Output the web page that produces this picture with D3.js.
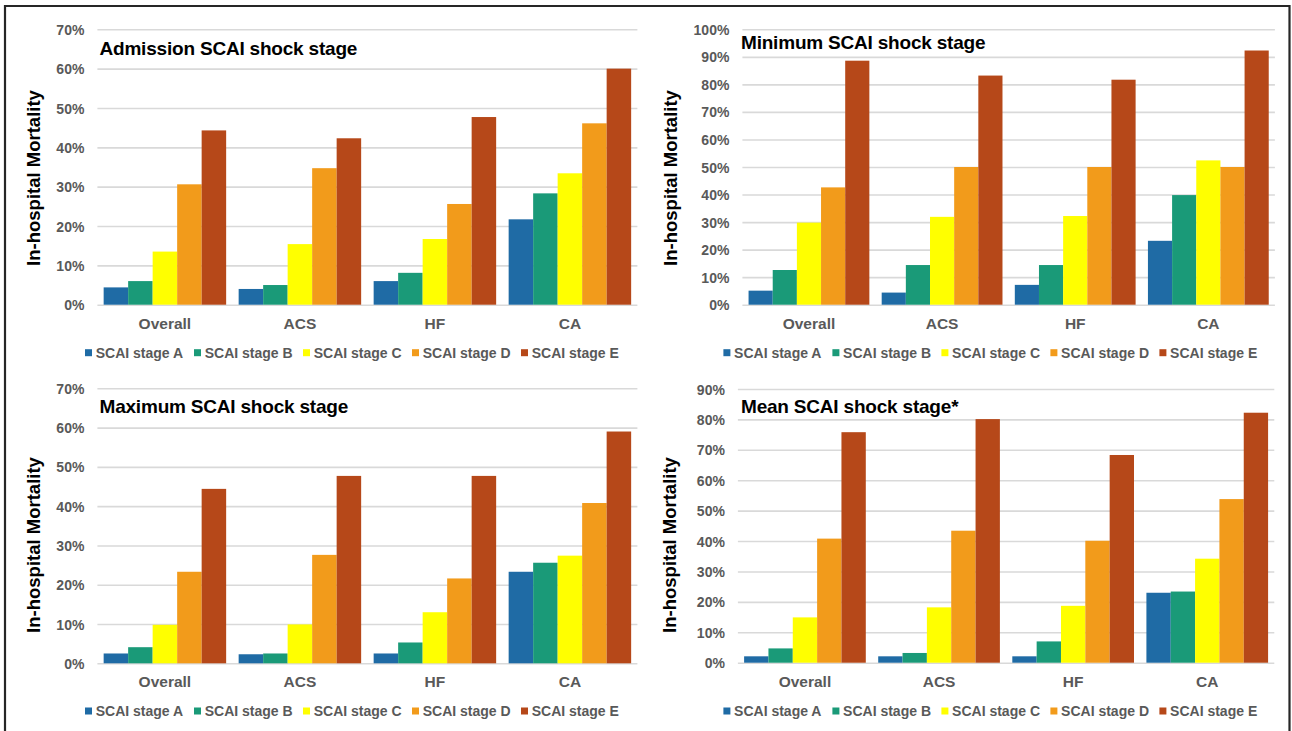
<!DOCTYPE html>
<html>
<head>
<meta charset="utf-8">
<script src="https://cdn.jsdelivr.net/npm/d3@7"></script>
<style>
  html, body { margin: 0; padding: 0; background: #fff; }
  svg { display: block; }
  text { font-family: "Liberation Sans", Arial, Helvetica, sans-serif; }
</style>
</head>
<body>
<svg id="chart" width="1292" height="731"></svg>
<script>
// ---------------- DATA ----------------
const categories = ["Overall", "ACS", "HF", "CA"];
const stages = ["SCAI stage A", "SCAI stage B", "SCAI stage C", "SCAI stage D", "SCAI stage E"];
const stageColors = ["#1f6ba5", "#1a9a78", "#ffff00", "#f29b1b", "#b64819"];

// rows = categories (Overall, ACS, HF, CA); columns = stages A..E, in %
const admissionValues = [
  [4.4, 6.0, 13.5, 30.6, 44.3],
  [4.0, 5.0, 15.4, 34.7, 42.3],
  [6.0, 8.1, 16.7, 25.6, 47.7],
  [21.7, 28.3, 33.4, 46.1, 60.0]
];
const minimumValues = [
  [5.1, 12.6, 29.8, 42.6, 88.6],
  [4.4, 14.4, 31.9, 50.0, 83.2],
  [7.2, 14.4, 32.2, 50.0, 81.7],
  [23.2, 39.8, 52.4, 50.0, 92.3]
];
const maximumValues = [
  [2.5, 4.1, 9.8, 23.3, 44.4],
  [2.3, 2.5, 9.9, 27.6, 47.7],
  [2.5, 5.3, 13.0, 21.6, 47.7],
  [23.3, 25.6, 27.4, 40.8, 59.0]
];
const meanValues = [
  [2.1, 4.7, 14.9, 40.8, 75.8],
  [2.1, 3.2, 18.2, 43.4, 80.1],
  [2.1, 7.0, 18.7, 40.1, 68.3],
  [23.0, 23.4, 34.2, 53.8, 82.2]
];

const ticksAdmission = [0, 10, 20, 30, 40, 50, 60, 70];
const ticksMinimum = [0, 10, 20, 30, 40, 50, 60, 70, 80, 90, 100];
const ticksMaximum = [0, 10, 20, 30, 40, 50, 60, 70];
const ticksMean = [0, 10, 20, 30, 40, 50, 60, 70, 80, 90];

const titles = ["Admission SCAI shock stage", "Minimum SCAI shock stage", "Maximum SCAI shock stage", "Mean SCAI shock stage*"];
const yAxisLabel = "In-hospital Mortality";

// ---------------- LAYOUT ----------------
const panels = [
  { title: titles[0], values: admissionValues, ticks: ticksAdmission,
    x0: 97.4, x1: 637.4, yTop: 29.3, yBot: 304.7,
    titleX: 99.5, titleY: 55, labX: 33, labY: 178, catY: 328.5, legX: 85, legY: 352.7 },
  { title: titles[1], values: minimumValues, ticks: ticksMinimum,
    x0: 742.4, x1: 1274.9, yTop: 29.3, yBot: 304.7,
    titleX: 741, titleY: 49, labX: 670, labY: 178, catY: 328.5, legX: 723.4, legY: 352.7 },
  { title: titles[2], values: maximumValues, ticks: ticksMaximum,
    x0: 97.4, x1: 637.4, yTop: 388.3, yBot: 663.3,
    titleX: 99.5, titleY: 412.7, labX: 33, labY: 545, catY: 686.8, legX: 85, legY: 711 },
  { title: titles[3], values: meanValues, ticks: ticksMean,
    x0: 737.9, x1: 1274.3, yTop: 389, yBot: 662.7,
    titleX: 741, titleY: 412.7, labX: 669, labY: 545, catY: 686.8, legX: 723.4, legY: 711 }
];

const svg = d3.select("#chart");
svg.append("rect").attr("x", 0).attr("y", 0).attr("width", 1292).attr("height", 731).attr("fill", "#fff");

// outer frame (top, left, right)
svg.append("path")
  .attr("d", "M5,731 L5,6 L1289.5,6 L1289.5,731")
  .attr("fill", "none").attr("stroke", "#262626").attr("stroke-width", 2.2);

const grey = "#595959";

panels.forEach(p => {
  const g = svg.append("g");
  const maxV = p.ticks[p.ticks.length - 1];
  const y = d3.scaleLinear().domain([0, maxV]).range([p.yBot, p.yTop]);
  const x = d3.scaleBand().domain(categories).range([p.x0, p.x1])
    .paddingInner(0.0926).paddingOuter(0.0463);
  const xs = d3.scaleBand().domain(stages).range([0, x.bandwidth()]).padding(0);

  // y axis with gridlines
  const yAxis = d3.axisLeft(y).tickValues(p.ticks).tickFormat(d => d + "%")
    .tickSizeInner(-(p.x1 - p.x0)).tickSizeOuter(0).tickPadding(13);
  const ga = g.append("g").attr("transform", `translate(${p.x0},0)`).call(yAxis);
  ga.select(".domain").remove();
  ga.selectAll(".tick line").attr("stroke", "#d9d9d9").attr("stroke-width", 1.6);
  ga.selectAll(".tick text")
    .attr("fill", grey).style("font-size", "14px").style("font-weight", "bold")
    .attr("dy", "0.36em");

  // bars
  const groups = g.append("g").selectAll("g").data(categories).join("g")
    .attr("transform", d => `translate(${x(d)},0)`);
  groups.selectAll("rect")
    .data((d, i) => p.values[i].map((v, j) => ({ stage: stages[j], v, j })))
    .join("rect")
    .attr("x", d => xs(d.stage))
    .attr("y", d => y(d.v))
    .attr("width", xs.bandwidth())
    .attr("height", d => y(0) - y(d.v))
    .attr("fill", d => stageColors[d.j]);

  // x axis labels
  const xAxis = d3.axisBottom(x).tickSize(0).tickPadding(0);
  const gx = g.append("g").attr("transform", `translate(0,${p.catY})`).call(xAxis);
  gx.select(".domain").remove();
  gx.selectAll(".tick text")
    .attr("y", 0).attr("dy", 0)
    .attr("fill", grey).style("font-size", "15.5px").style("font-weight", "bold");

  // title
  g.append("text")
    .attr("x", p.titleX).attr("y", p.titleY)
    .attr("fill", "#000").style("font-size", "19px").style("font-weight", "bold")
    .style("letter-spacing", "-0.2px")
    .text(p.title);

  // y-axis label
  g.append("text")
    .attr("transform", `translate(${p.labX},${p.labY}) rotate(-90)`)
    .attr("text-anchor", "middle").attr("dy", "0.36em")
    .attr("fill", "#000").style("font-size", "18.5px").style("font-weight", "bold")
    .text(yAxisLabel);

  // legend
  const lg = g.append("g").attr("transform", `translate(${p.legX},${p.legY})`);
  const items = lg.selectAll("g").data(stages).join("g")
    .attr("transform", (d, i) => `translate(${i * 109},0)`);
  items.append("rect").attr("x", 0).attr("y", -3.5).attr("width", 7).attr("height", 7)
    .attr("fill", (d, i) => stageColors[i]);
  items.append("text").attr("x", 10.7).attr("y", 0).attr("dy", "0.36em")
    .attr("fill", grey).style("font-size", "14px").style("font-weight", "bold")
    .text(d => d);
});
</script>
</body>
</html>
